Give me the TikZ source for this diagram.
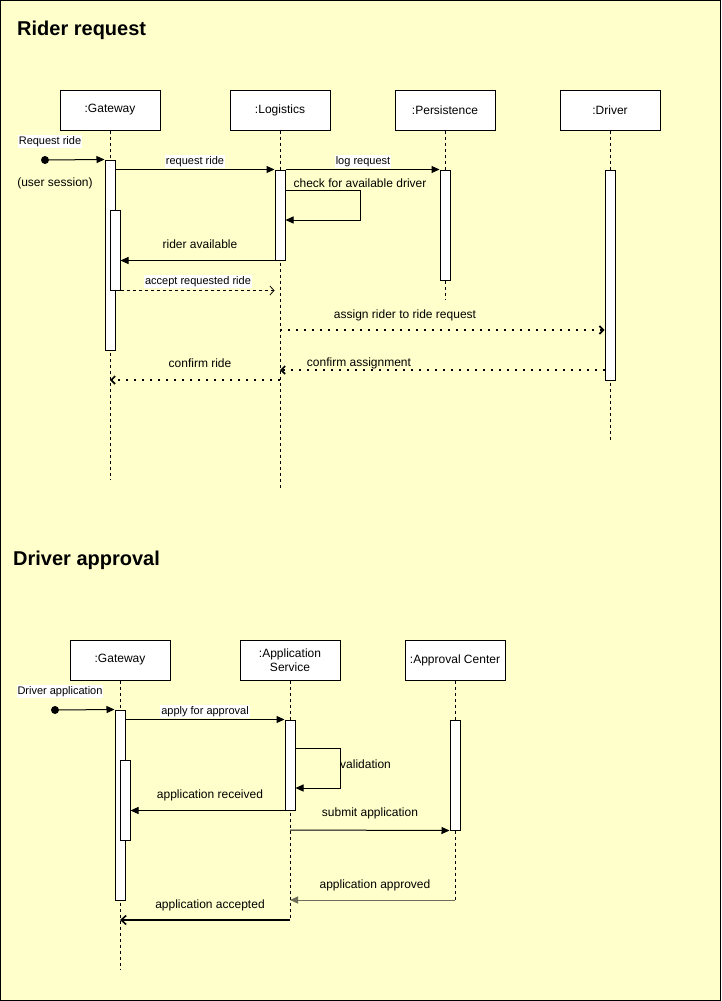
\documentclass[tikz,border=0pt]{standalone}
\usepackage{fontspec}
\setmainfont{Liberation Sans}
\usetikzlibrary{arrows.meta}
\definecolor{bgyellow}{HTML}{FFFFCC}
\definecolor{grayline}{HTML}{6E6E5A}
\begin{document}
\begin{tikzpicture}[x=1pt,y=-1pt,
  head/.style={draw,fill=white,line width=1pt,minimum width=100pt,minimum height=40pt,inner sep=0pt,font=\fontsize{12}{14}\selectfont,align=center},
  act/.style={draw,fill=white,line width=1pt,minimum width=10pt,inner sep=0pt},
  life/.style={line width=0.8pt,dash pattern=on 3pt off 3pt},
  msg/.style={line width=1pt,-{Triangle[length=8pt,width=7pt]}},
  ret/.style={line width=0.8pt,dash pattern=on 3pt off 3pt,-{Straight Barb[length=4pt,width=9pt,line width=0.8pt]}},
  dotret/.style={line width=2pt,dash pattern=on 2pt off 6pt,-{Straight Barb[length=4pt,width=8pt,line width=1.6pt]}},
  lbl/.style={font=\fontsize{12}{14}\selectfont,inner sep=1pt,yshift=-1.5pt},
  slbl/.style={font=\fontsize{11}{13}\selectfont,fill=white,inner sep=1pt,yshift=-1.5pt},
  ttl/.style={font=\fontsize{20}{24}\selectfont\bfseries,anchor=west,inner sep=0pt,yshift=-2pt},
  startdot/.style={circle,fill=black,inner sep=0pt,minimum size=8pt},
]
\useasboundingbox (0,0) rectangle (721,1001);
\fill[bgyellow] (0,0) rectangle (721,1001);
\draw[line width=1pt] (0.5,0.5) rectangle (720.5,1000.5);

% ================= Rider request =================
\node[ttl] (t1) at (17,28) {Rider request};

\node[head] (gw) at (110,110) {:Gateway};
\node[head] (lo) at (280,110) {:Logistics};
\node[head] (pe) at (445,110) {:Persistence};
\node[head] (dr) at (610,110) {:Driver};

\coordinate (gwEnd) at (110,480);
\coordinate (loEnd) at (280,488);
\coordinate (peEnd) at (445,300);
\coordinate (drEnd) at (610,440);
\draw[life] (gw.south) -- (gwEnd);
\draw[life] (lo.south) -- (loEnd);
\draw[life] (pe.south) -- (peEnd);
\draw[life] (dr.south) -- (drEnd);

\node[act,minimum height=190pt] (gwA) at (110,255) {};
\node[act,minimum height=80pt] (gwB) at (115,250) {};
\node[act,minimum height=90pt] (loA) at (280,215) {};
\node[act,minimum height=110pt] (peA) at (445,225) {};
\node[act,minimum height=210pt] (drA) at (610,275) {};

\node[startdot] (s1) at (45,160) {};
\draw[msg] (s1) -- (gwA.north west);
\node[slbl] (l1) at (50,140) {Request ride};
\node[lbl] (l2) at (55,182) {(user session)};

\draw[msg] (gwA.east |- loA.north) -- (loA.north west);
\node[slbl] (l3) at (195,160) {request ride};

\draw[msg] (loA.north east) -- (peA.north west);
\node[slbl] (l4) at (363,160) {log request};

\coordinate (sa) at (360,190);
\coordinate (sb) at (360,220);
\draw[msg] (loA.east |- sa) -- (sa) -- (sb) -- (loA.east |- sb);
\node[lbl] (l5) at (360,182) {check for available driver};

\draw[msg] (loA.south west) -- (gwB.east |- loA.south);
\node[lbl] (l6) at (200,243) {rider available};

\draw[ret] (gwB.south east) -- (loA.west |- gwB.south);
\node[slbl] (l7) at (198,280) {accept requested ride};

\coordinate (m1) at (280,330);
\draw[dotret] (m1) -- (drA.west |- m1);
\node[lbl] (l8) at (405,314) {assign rider to ride request};

\coordinate (m2) at (280,370);
\draw[dotret] (drA.west |- m2) -- (m2);
\node[lbl] (l9) at (359,362) {confirm assignment};

\coordinate (m3a) at (280,380);
\coordinate (m3b) at (110,380);
\draw[dotret] (m3a) -- (m3b);
\node[lbl] (l10) at (200,362) {confirm ride};

% ================= Driver approval =================
\node[ttl] (t2) at (13,558) {Driver approval};

\node[head] (gw2) at (120,660) {:Gateway};
\node[head] (as) at (290,660) {:Application\\Service};
\node[head] (ac) at (455,660) {:Approval Center};

\coordinate (gw2End) at (120,970);
\coordinate (asEnd) at (290,920);
\coordinate (acEnd) at (455,900);
\draw[life] (gw2.south) -- (gw2End);
\draw[life] (as.south) -- (asEnd);
\draw[life] (ac.south) -- (acEnd);

\node[act,minimum height=190pt] (gwA2) at (120,805) {};
\node[act,minimum height=80pt] (gwB2) at (125,800) {};
\node[act,minimum height=90pt] (asA) at (290,765) {};
\node[act,minimum height=110pt] (acA) at (455,775) {};

\node[startdot] (s2) at (55,710) {};
\draw[msg] (s2) -- (gwA2.north west);
\node[slbl] (k1) at (60,690) {Driver application};

\draw[msg] (gwA2.east |- asA.north) -- (asA.north west);
\node[slbl] (k2) at (205,710) {apply for approval};

\coordinate (va) at (340,748);
\coordinate (vb) at (340,788);
\draw[msg] (asA.east |- va) -- (va) -- (vb) -- (asA.east |- vb);
\node[lbl,anchor=west,inner sep=0pt] (k3) at (340,763) {validation};

\draw[msg] (asA.south west) -- (gwB2.east |- asA.south);
\node[lbl] (k4) at (210,794) {application received};

\coordinate (n1) at (290,830);
\draw[msg] (n1) -- (acA.south west);
\node[lbl] (k5) at (370,812) {submit application};

\draw[msg,grayline] (acEnd) -- (as.center |- acEnd);
\node[lbl] (k6) at (375,884) {application approved};

\coordinate (n3) at (120,920);
\draw[line width=2pt,-{Straight Barb[length=5pt,width=9pt,line width=1.6pt]}] (asEnd) -- (n3);
\node[lbl] (k7) at (210,904) {application accepted};
\end{tikzpicture}
\end{document}
